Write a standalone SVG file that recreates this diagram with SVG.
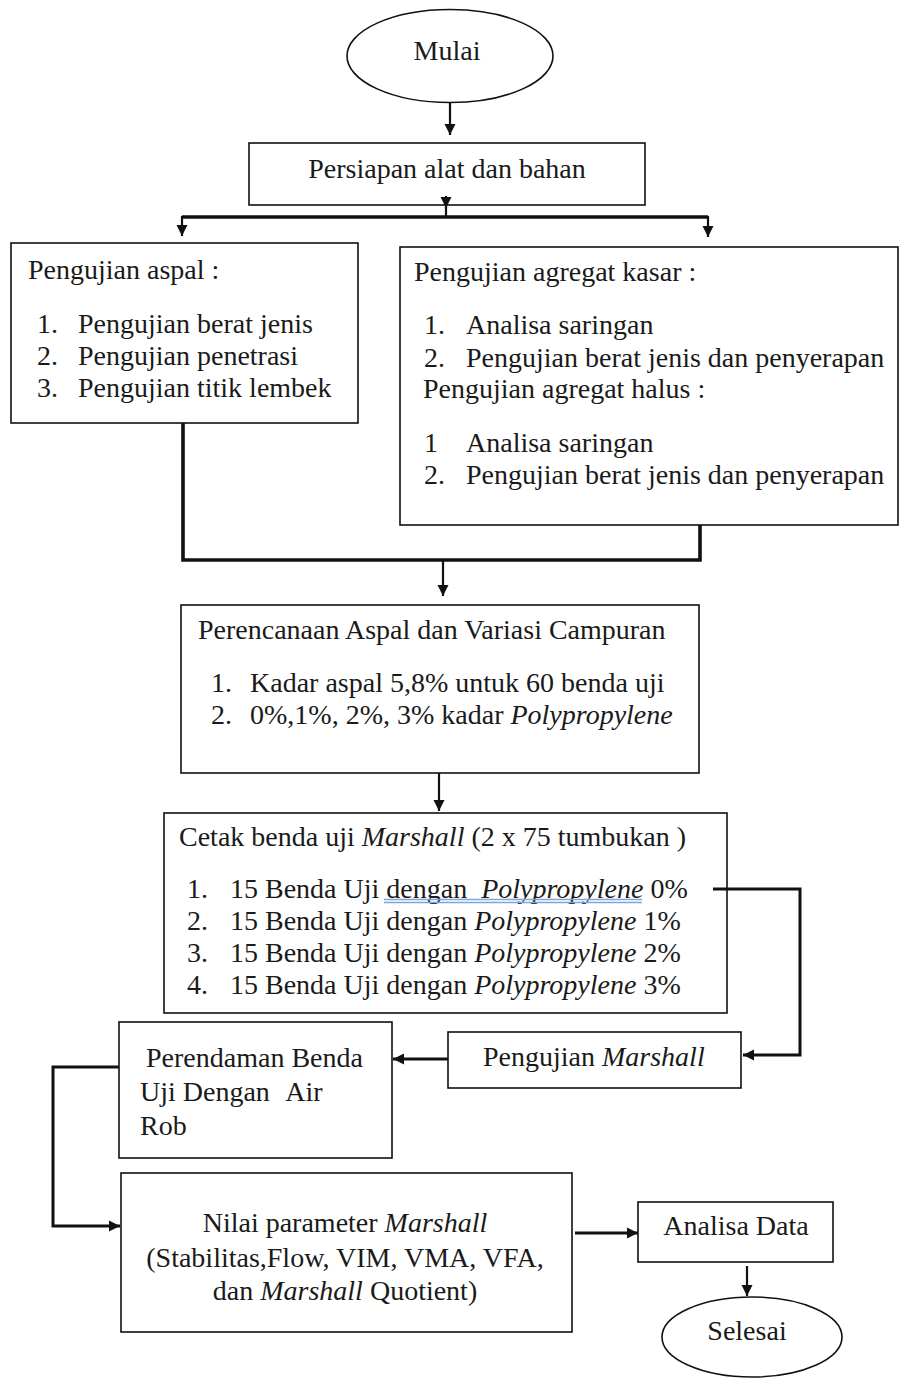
<svg xmlns="http://www.w3.org/2000/svg" width="899" height="1378" viewBox="0 0 899 1378">
<style>
  text { font-family: "Liberation Serif", "Times New Roman", serif; font-size: 28px; fill: #1a1a1a; }
  .mid { text-anchor: middle; }
  .it { font-style: italic; }
  .box { fill: #ffffff; stroke: #111111; stroke-width: 1.6; }
  .ln { fill: none; stroke: #111111; stroke-width: 2.2; }
  .thick { fill: none; stroke: #111111; stroke-width: 3.6; }
  .med { fill: none; stroke: #111111; stroke-width: 3; }
  .spell { stroke: #7fa4dc; stroke-width: 1.3; fill: none; }
</style>
<defs>
  <marker id="ah" markerUnits="userSpaceOnUse" markerWidth="12" markerHeight="12" refX="11" refY="6" orient="auto">
    <path d="M0,0.5 L11,6 L0,11.5 z" fill="#111111"/>
  </marker>
</defs>

<g id="mulai">
  <ellipse cx="450" cy="56" rx="103" ry="46.5" class="box"/>
  <text x="447" y="60" class="mid">Mulai</text>
</g>

<g id="persiapan">
  <rect x="249" y="143" width="396" height="62" class="box"/>
  <text x="447" y="178" class="mid">Persiapan alat dan bahan</text>
</g>

<g id="uji-aspal">
  <rect x="11" y="243" width="347" height="180" class="box"/>
  <text x="28" y="279">Pengujian aspal :</text>
  <text y="333"><tspan x="37">1.</tspan><tspan x="78">Pengujian berat jenis</tspan></text>
  <text y="365"><tspan x="37">2.</tspan><tspan x="78">Pengujian penetrasi</tspan></text>
  <text y="397"><tspan x="37">3.</tspan><tspan x="78">Pengujian titik lembek</tspan></text>
</g>

<g id="uji-agregat">
  <rect x="400" y="247" width="498" height="278" class="box"/>
  <text x="414" y="281">Pengujian agregat kasar :</text>
  <text y="334"><tspan x="424">1.</tspan><tspan x="466">Analisa saringan</tspan></text>
  <text y="367"><tspan x="424">2.</tspan><tspan x="466">Pengujian berat jenis dan penyerapan</tspan></text>
  <text x="423" y="398">Pengujian agregat halus :</text>
  <text y="452"><tspan x="424">1</tspan><tspan x="466">Analisa saringan</tspan></text>
  <text y="484"><tspan x="424">2.</tspan><tspan x="466">Pengujian berat jenis dan penyerapan</tspan></text>
</g>

<g id="perencanaan">
  <rect x="181" y="605" width="518" height="168" class="box"/>
  <text x="198" y="639">Perencanaan Aspal dan Variasi Campuran</text>
  <text y="692"><tspan x="211">1.</tspan><tspan x="250">Kadar aspal 5,8% untuk 60 benda uji</tspan></text>
  <text y="724"><tspan x="211">2.</tspan><tspan x="250">0%,1%, 2%, 3% kadar </tspan><tspan class="it">Polypropylene</tspan></text>
</g>

<g id="cetak">
  <rect x="164" y="813" width="563" height="200" class="box"/>
  <text x="179" y="846">Cetak benda uji <tspan class="it">Marshall</tspan> (2 x 75 tumbukan )</text>
  <text y="898"><tspan x="187">1.</tspan><tspan x="230">15 Benda Uji dengan</tspan><tspan class="it" dx="14">Polypropylene</tspan><tspan> 0%</tspan></text>
  <text y="930"><tspan x="187">2.</tspan><tspan x="230">15 Benda Uji dengan </tspan><tspan class="it">Polypropylene</tspan><tspan> 1%</tspan></text>
  <text y="962"><tspan x="187">3.</tspan><tspan x="230">15 Benda Uji dengan </tspan><tspan class="it">Polypropylene</tspan><tspan> 2%</tspan></text>
  <text y="994"><tspan x="187">4.</tspan><tspan x="230">15 Benda Uji dengan </tspan><tspan class="it">Polypropylene</tspan><tspan> 3%</tspan></text>
  <path d="M384,899.5 H642 M384,902.5 H642" class="spell"/>
</g>

<g id="pengujian-marshall">
  <rect x="448" y="1032" width="293" height="56" class="box"/>
  <text x="483" y="1066">Pengujian <tspan class="it">Marshall</tspan></text>
</g>

<g id="perendaman">
  <rect x="119" y="1022" width="273" height="136" class="box"/>
  <text x="146" y="1067">Perendaman Benda</text>
  <text x="140" y="1101">Uji Dengan <tspan dx="10">Air</tspan></text>
  <text x="140" y="1135">Rob</text>
</g>

<g id="nilai">
  <rect x="121" y="1173" width="451" height="159" class="box"/>
  <text x="345" y="1232" class="mid">Nilai parameter <tspan class="it">Marshall</tspan></text>
  <text x="345" y="1267" class="mid">(Stabilitas,Flow, VIM, VMA, VFA,</text>
  <text x="345" y="1300" class="mid">dan <tspan class="it">Marshall</tspan> Quotient)</text>
</g>

<g id="analisa">
  <rect x="638" y="1202" width="195" height="60" class="box"/>
  <text x="736" y="1235" class="mid">Analisa Data</text>
</g>

<g id="selesai">
  <ellipse cx="752" cy="1337" rx="90" ry="40" class="box"/>
  <text x="747" y="1340" class="mid">Selesai</text>
</g>

<g id="connectors">
  <path d="M450,103 V135" class="ln" marker-end="url(#ah)"/>
  <path d="M446,196 V208" class="ln" marker-end="url(#ah)"/>
  <path d="M446,207 V217" class="ln"/>
  <path d="M182,217 H708" class="thick"/>
  <path d="M182,216 V236" class="ln" marker-end="url(#ah)"/>
  <path d="M708,216 V237" class="ln" marker-end="url(#ah)"/>
  <path d="M183,423 V560 H700 V525" class="thick"/>
  <path d="M443,560 V596" class="ln" marker-end="url(#ah)"/>
  <path d="M439,773 V811" class="ln" marker-end="url(#ah)"/>
  <path d="M713,889 H800 V1055 H743" class="med" marker-end="url(#ah)"/>
  <path d="M448,1059 H393" class="med" marker-end="url(#ah)"/>
  <path d="M119,1067 H53 V1226 H120" class="med" marker-end="url(#ah)"/>
  <path d="M575,1233 H638" class="med" marker-end="url(#ah)"/>
  <path d="M747,1266 V1296" class="ln" marker-end="url(#ah)"/>
</g>
</svg>
